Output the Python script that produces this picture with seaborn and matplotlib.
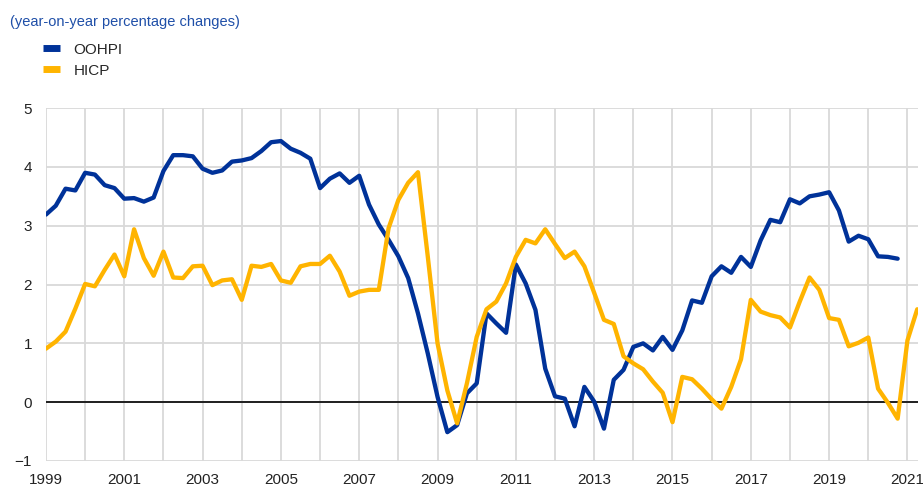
import numpy as np
import pandas as pd
import matplotlib
matplotlib.use("Agg")
import matplotlib.pyplot as plt
from matplotlib.lines import Line2D
import seaborn as sns

# quarterly year-on-year changes, starting 1999 Q1
oohpi = [3.19, 3.34, 3.63, 3.60, 3.90, 3.87, 3.69, 3.64, 3.46, 3.47, 3.41, 3.48,
         3.93, 4.20, 4.20, 4.18, 3.97, 3.90, 3.94, 4.09, 4.11, 4.15, 4.27, 4.42,
         4.44, 4.31, 4.24, 4.14, 3.64, 3.80, 3.89, 3.73, 3.85, 3.36, 3.02, 2.76,
         2.48, 2.11, 1.51, 0.83, 0.09, -0.51, -0.39, 0.15, 0.32, 1.51, 1.34, 1.18,
         2.34, 2.02, 1.57, 0.57, 0.10, 0.06, -0.41, 0.26, 0.01, -0.45, 0.38, 0.55,
         0.94, 1.00, 0.88, 1.11, 0.89, 1.22, 1.73, 1.69, 2.14, 2.31, 2.20, 2.47,
         2.30, 2.75, 3.10, 3.06, 3.45, 3.38, 3.50, 3.53, 3.57, 3.26, 2.73, 2.83,
         2.77, 2.48, 2.47, 2.44]
hicp = [0.91, 1.03, 1.20, 1.59, 2.01, 1.97, 2.25, 2.51, 2.14, 2.94, 2.45, 2.15,
        2.56, 2.12, 2.11, 2.31, 2.32, 1.99, 2.07, 2.09, 1.74, 2.32, 2.30, 2.35,
        2.07, 2.03, 2.31, 2.35, 2.35, 2.49, 2.22, 1.81, 1.88, 1.91, 1.91, 2.96,
        3.44, 3.73, 3.91, 2.48, 1.00, 0.20, -0.36, 0.32, 1.11, 1.58, 1.71, 2.02,
        2.47, 2.76, 2.70, 2.94, 2.69, 2.45, 2.56, 2.31, 1.86, 1.40, 1.33, 0.78,
        0.66, 0.56, 0.35, 0.16, -0.34, 0.43, 0.39, 0.23, 0.05, -0.11, 0.26, 0.73,
        1.74, 1.54, 1.48, 1.44, 1.27, 1.71, 2.12, 1.91, 1.43, 1.40, 0.95, 1.01,
        1.10, 0.23, -0.01, -0.28, 1.05, 1.58]
series_names = ["OOHPI", "HICP"]
colors = ["#003299", "#FFB400"]
year_ticks = list(range(1999, 2022))

start = 1999
df = pd.concat([
    pd.DataFrame({"date": start + np.arange(len(oohpi)) / 4, "value": oohpi, "series": "OOHPI"}),
    pd.DataFrame({"date": start + np.arange(len(hicp)) / 4, "value": hicp, "series": "HICP"}),
])

sns.set_style("white")
plt.rcParams["font.family"] = ["Liberation Sans", "DejaVu Sans"]

fig = plt.figure(figsize=(9.23, 4.87), dpi=100)
ax = fig.add_axes([0.0498, 0.0534, 0.9448, 0.7246])

sns.lineplot(data=df, x="date", y="value", hue="series", hue_order=series_names,
             palette=colors, linewidth=3.1, ax=ax, legend=False)

ax.set_xlim(1999, 2021.27)
ax.set_ylim(-1, 5)
ax.set_xticks(year_ticks)
ax.set_xticklabels([str(y) if (y - 1999) % 2 == 0 else "" for y in year_ticks])
ax.set_yticks(range(-1, 6))
ax.grid(True, color="#d9d9d9", linewidth=1.3)
ax.axhline(0, color="black", linewidth=1.2, zorder=1.5)
ax.tick_params(length=0, labelsize=11, colors="#222222")
ax.tick_params(axis="x", pad=9)
ax.tick_params(axis="y", pad=10)
for s in ax.spines.values():
    s.set_visible(False)
ax.set_xlabel("")
ax.set_ylabel("")

fig.text(0.011, 0.955, "(year-on-year percentage changes)", color="#1f4fa8",
         fontsize=10.5, va="center", ha="left")

handles = [Line2D([], [], color=c, linewidth=5, solid_capstyle="butt") for c in colors]
fig.legend(handles, series_names, loc="upper left", bbox_to_anchor=(0.04, 0.925),
           frameon=False, fontsize=11, handlelength=1.1, handletextpad=0.9,
           labelspacing=0.45, borderaxespad=0)

fig.savefig("out.png", dpi=100)
